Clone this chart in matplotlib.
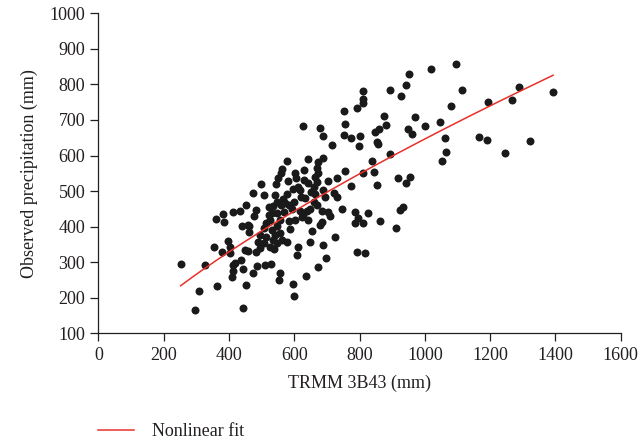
import numpy as np
import matplotlib
matplotlib.use("Agg")
import matplotlib.pyplot as plt
from matplotlib.lines import Line2D

# --- data ---
trmm = [253, 297, 309, 328, 355, 365, 378, 398, 404, 402, 361, 385, 381, 412, 434,
        453, 441, 457, 462, 443, 451, 409, 412, 414, 419, 437, 442, 449, 457, 478,
        483, 473, 508, 498, 463, 475, 482, 487, 511, 530, 524, 495, 506, 514, 526,
        536, 531, 490, 506, 514, 526, 539, 546, 557, 562, 577, 541, 536, 496, 531,
        548, 557, 583, 553, 557, 597, 599, 635, 612, 610, 648, 656, 672, 689, 697,
        684, 679, 709, 725, 623, 643, 628, 640, 648, 618, 592, 565, 572, 584, 561,
        546, 541, 577, 551, 561, 564, 578, 580, 602, 607, 612, 618, 631, 631, 643,
        643, 633, 661, 669, 684, 664, 661, 669, 664, 672, 670, 674, 689, 689, 694,
        704, 730, 723, 730, 704, 745, 757, 774, 628, 680, 687, 716, 752, 755, 753,
        774, 793, 799, 803, 786, 786, 796, 791, 812, 812, 812, 812, 812, 817, 827,
        839, 845, 854, 848, 860, 853, 856, 863, 876, 881, 893, 894, 912, 919, 924,
        934, 928, 941, 941, 948, 951, 955, 962, 970, 1001, 1019, 1046, 1053, 1061, 1065,
        1080, 1095, 1114, 1167, 1190, 1194, 1245, 1268, 1288, 1322, 1392,
        522, 548, 568, 600, 622, 652, 596, 603, 545, 588]
observed = [295, 166, 219, 291, 342, 233, 328, 361, 344, 325, 422, 412, 435, 440, 443,
            460, 402, 405, 386, 170, 237, 257, 274, 292, 299, 307, 281, 335, 332, 431,
            446, 494, 490, 519, 402, 269, 328, 288, 291, 295, 456, 377, 395, 409, 419,
            458, 438, 358, 353, 370, 344, 336, 353, 381, 363, 358, 377, 363, 339, 391,
            437, 419, 416, 250, 271, 239, 205, 260, 344, 321, 356, 387, 286, 347, 313,
            414, 405, 430, 372, 428, 419, 433, 445, 451, 444, 449, 477, 466, 462, 461,
            468, 489, 491, 538, 550, 562, 585, 529, 550, 536, 512, 503, 559, 531, 522,
            590, 480, 470, 461, 444, 491, 512, 526, 540, 552, 566, 583, 594, 503, 484,
            528, 538, 494, 482, 442, 451, 556, 514, 684, 677, 655, 629, 725, 689, 658,
            650, 735, 626, 655, 442, 410, 425, 328, 747, 760, 782, 552, 410, 325, 437,
            585, 555, 518, 666, 675, 639, 632, 416, 712, 686, 784, 604, 395, 536, 447,
            455, 767, 799, 523, 674, 830, 540, 660, 709, 683, 842, 694, 585, 649, 609,
            739, 856, 784, 653, 644, 750, 608, 757, 793, 642, 778,
            432, 402, 440, 470, 482, 498, 505, 420, 520, 392]

# nonlinear (power law) fit: y = a * x**b
fit_a = 3.95
fit_b = 0.738
fit_xmin, fit_xmax = 252, 1393

plt.rcParams['font.family'] = ['Liberation Serif', 'DejaVu Serif']
text_col = '#231f20'

fig = plt.figure(figsize=(6.41, 4.43), dpi=100)
ax = fig.add_axes([0.1534, 0.2476, 0.8149, 0.7224])

ax.scatter(trmm, observed, s=33, color='#1a1a1a', linewidths=0, zorder=2)

xf = np.linspace(fit_xmin, fit_xmax, 200)
line, = ax.plot(xf, fit_a * xf ** fit_b, color='#e8302a', lw=1.1, zorder=3)

ax.set_xlim(0, 1600)
ax.set_ylim(100, 1000)
ax.set_xticks(range(0, 1601, 200))
ax.set_yticks(range(100, 1001, 100))

for side in ['top', 'right']:
    ax.spines[side].set_visible(False)
for side in ['left', 'bottom']:
    ax.spines[side].set_color(text_col)
    ax.spines[side].set_linewidth(0.9)
ax.tick_params(direction='out', length=5.5, width=0.9, colors=text_col,
               labelsize=13, pad=4)

ax.set_xlabel('TRMM 3B43 (mm)', fontsize=13, color=text_col, labelpad=8)
ax.set_ylabel('Observed precipitation (mm)', fontsize=13, color=text_col, labelpad=8)

handle = Line2D([], [], color='#e8302a', lw=1.1)
fig.legend(handles=[handle], labels=['Nonlinear fit'], loc='lower left',
           bbox_to_anchor=(0.127, -0.03), frameon=False, fontsize=13,
           handlelength=2.0, handletextpad=1.0, labelcolor=text_col)

fig.savefig('out.png', dpi=100)
